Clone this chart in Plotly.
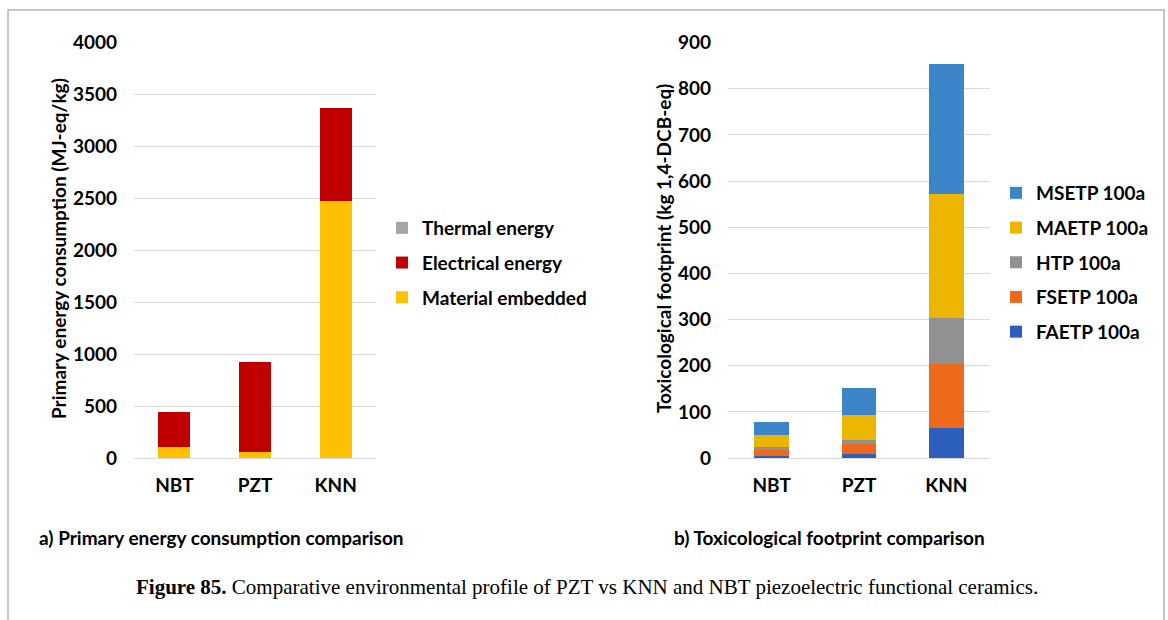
import plotly.graph_objects as go

W, H = 1168, 620

# ---- data -------------------------------------------------------------
materials = ["NBT", "PZT", "KNN"]

# primary energy consumption (MJ-eq/kg)
material_embedded = [106, 54, 2471]
electrical_energy = [339, 866, 904]
thermal_energy = [0, 0, 0]

# toxicological footprint (kg 1,4-DCB-eq)
faetp = [5, 9, 65]
fsetp = [14, 21, 138]
htp = [4, 8, 101]
maetp = [27, 55, 269]
msetp = [27, 58, 280]

energy_ticks = [0, 500, 1000, 1500, 2000, 2500, 3000, 3500, 4000]
tox_ticks = [0, 100, 200, 300, 400, 500, 600, 700, 800, 900]

FONT = "Lato"
FS = 19


def px_x(x):
    return x / W


def px_y(y):
    return (H - y) / H


fig = go.Figure()

# ---- left panel: energy (stacked bottom -> top) ----------------------
energy_series = [
    ("Material embedded", material_embedded, "#FFC000"),
    ("Electrical energy", electrical_energy, "#C00000"),
    ("Thermal energy", thermal_energy, "#A5A5A5"),
]
n = len(energy_series)
for i, (name, vals, col) in enumerate(energy_series):
    fig.add_trace(go.Bar(
        x=materials, y=vals, name=name, marker=dict(color=col, line=dict(width=0)),
        xaxis="x", yaxis="y", legend="legend", legendgroup=name,
        legendrank=n - i, width=0.4,
    ))

# ---- right panel: toxicity (stacked bottom -> top) -------------------
tox_series = [
    ("FAETP 100a", faetp, "#2B5EBD"),
    ("FSETP 100a", fsetp, "#EC6A1A"),
    ("HTP 100a", htp, "#919191"),
    ("MAETP 100a", maetp, "#ECB500"),
    ("MSETP 100a", msetp, "#3C85C8"),
]
n = len(tox_series)
for i, (name, vals, col) in enumerate(tox_series):
    fig.add_trace(go.Bar(
        x=materials, y=vals, name=name, marker=dict(color=col, line=dict(width=0)),
        xaxis="x2", yaxis="y2", legend="legend2", legendgroup=name,
        legendrank=n - i, width=0.4,
    ))

y_dom = [px_y(458), px_y(42.7)]
tick_font = dict(family=FONT, size=FS, color="#000000", weight="bold")
grid = "#D9D9D9"

common_x = dict(showgrid=False, showline=False, zeroline=False, ticks="",
                tickfont=tick_font, ticklabelstandoff=14, fixedrange=True,
                automargin=False)
common_y = dict(showgrid=True, gridcolor=grid, gridwidth=1, zeroline=True,
                zerolinecolor=grid, zerolinewidth=1, showline=False, ticks="",
                tickfont=tick_font, ticklabelstandoff=16, fixedrange=True,
                automargin=False)

legend_font = dict(family=FONT, size=FS, color="#000000", weight="bold")

fig.update_layout(
    width=W, height=H,
    margin=dict(l=0, r=0, t=0, b=0, autoexpand=False),
    paper_bgcolor="white", plot_bgcolor="white",
    barmode="stack",
    font=dict(family=FONT, size=FS, color="#000000"),
    xaxis=dict(domain=[px_x(134), px_x(376)], anchor="y", **common_x),
    yaxis=dict(domain=y_dom, anchor="x", range=[0, 4000], tickvals=energy_ticks, **common_y),
    xaxis2=dict(domain=[px_x(728), px_x(990)], anchor="y2", **common_x),
    yaxis2=dict(domain=y_dom, anchor="x2", range=[0, 900], tickvals=tox_ticks, **common_y),
    legend=dict(x=px_x(382), y=px_y(209), xanchor="left", yanchor="top",
                traceorder="grouped", tracegroupgap=7, itemwidth=30,
                font=legend_font, bgcolor="rgba(0,0,0,0)"),
    legend2=dict(x=px_x(996), y=px_y(174), xanchor="left", yanchor="top",
                 traceorder="grouped", tracegroupgap=7, itemwidth=30,
                 font=legend_font, bgcolor="rgba(0,0,0,0)"),
    showlegend=True,
)

# axis titles
fig.add_annotation(text="Primary energy consumption (MJ-eq/kg)", textangle=-90,
                   x=px_x(58), y=px_y(249), xref="paper", yref="paper",
                   xanchor="center", yanchor="middle", showarrow=False,
                   font=dict(family=FONT, size=FS, weight="bold"))
fig.add_annotation(text="Toxicological footprint (kg 1,4-DCB-eq)", textangle=-90,
                   x=px_x(663), y=px_y(249), xref="paper", yref="paper",
                   xanchor="center", yanchor="middle", showarrow=False,
                   font=dict(family=FONT, size=FS, weight="bold"))

# panel captions
fig.add_annotation(text="a) Primary energy consumption comparison",
                   x=px_x(37), y=px_y(537), xref="paper", yref="paper",
                   xanchor="left", yanchor="middle", showarrow=False,
                   font=dict(family=FONT, size=FS, weight="bold"))
fig.add_annotation(text="b) Toxicological footprint comparison",
                   x=px_x(672), y=px_y(537), xref="paper", yref="paper",
                   xanchor="left", yanchor="middle", showarrow=False,
                   font=dict(family=FONT, size=FS, weight="bold"))

# figure caption
fig.add_annotation(
    text="<b>Figure 85.</b> Comparative environmental profile of PZT vs KNN and NBT piezoelectric functional ceramics.",
    x=px_x(587), y=px_y(587), xref="paper", yref="paper",
    xanchor="center", yanchor="middle",
    showarrow=False, font=dict(family="Liberation Serif", size=21, color="#000000"))

# page frame
fig.add_shape(type="rect", xref="paper", yref="paper",
              x0=px_x(8), x1=px_x(1164), y0=px_y(640), y1=px_y(10),
              line=dict(color="#B4B4B4", width=1.5), layer="below")

fig.write_html("out.html")
